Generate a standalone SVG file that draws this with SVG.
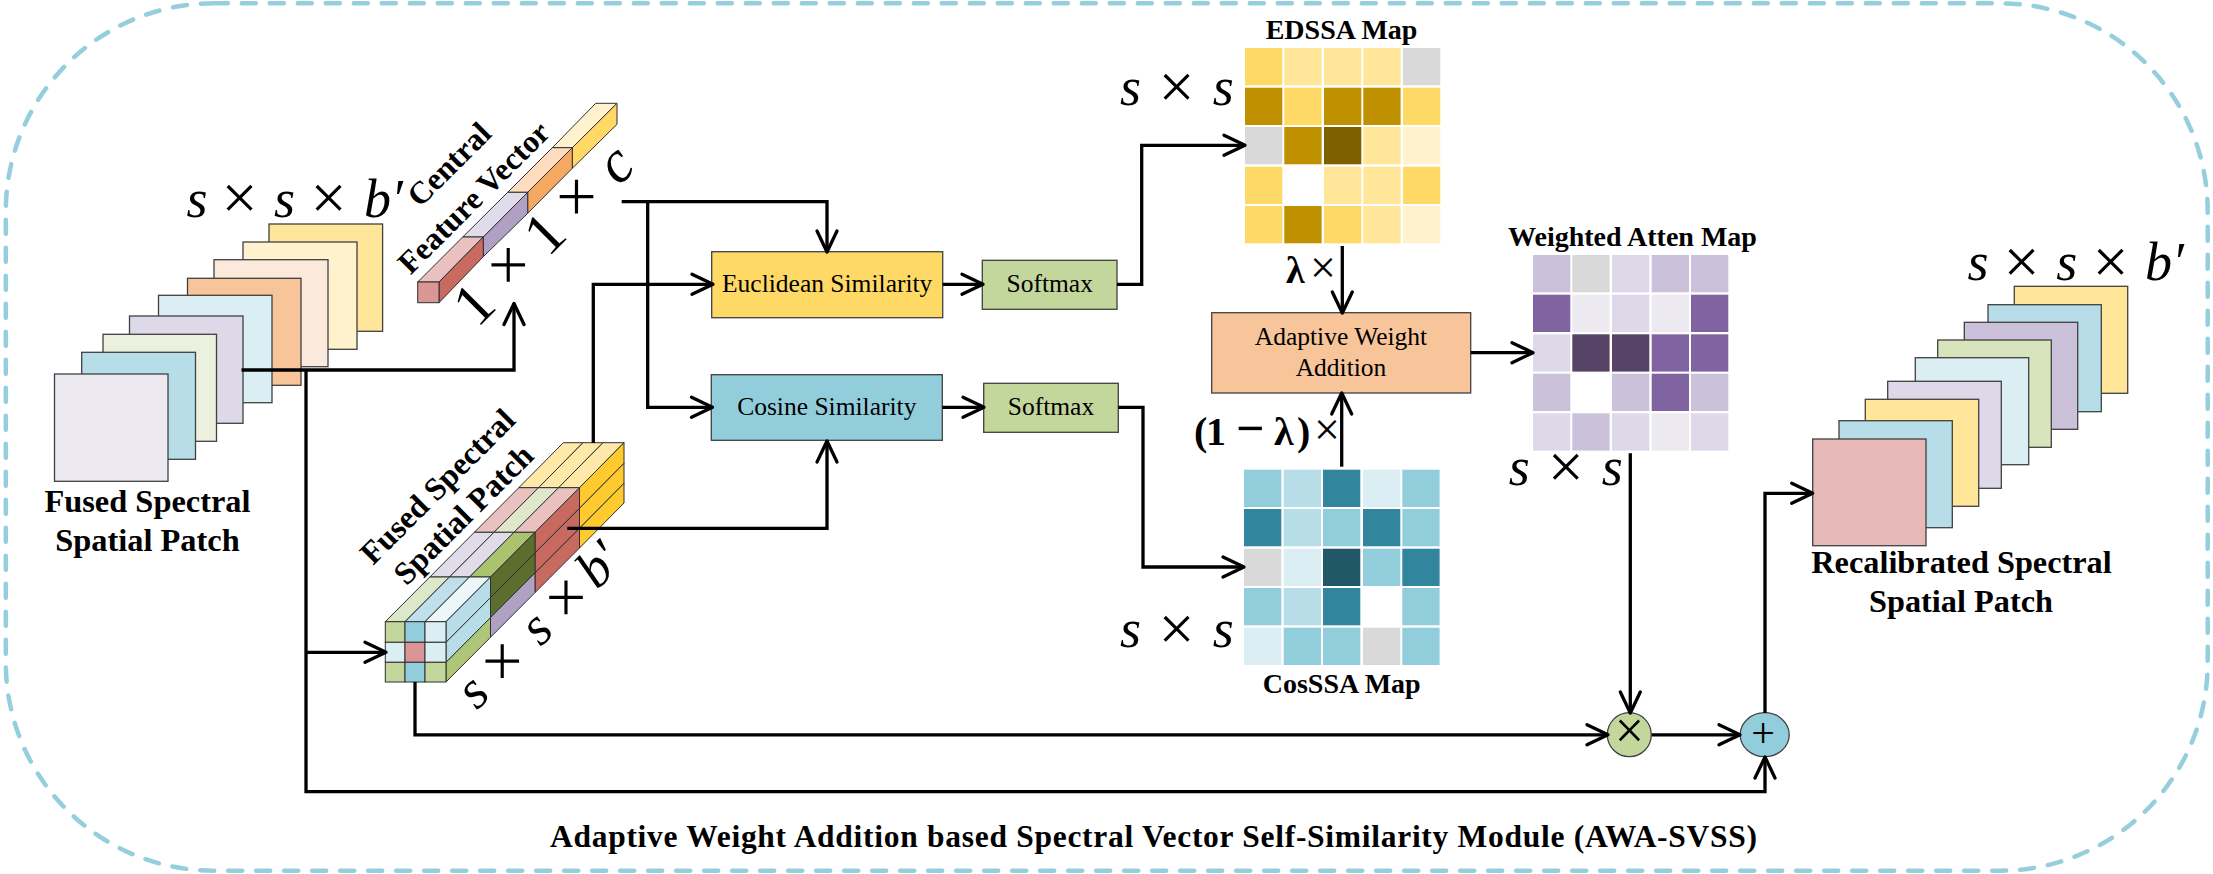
<svg xmlns="http://www.w3.org/2000/svg" width="2213" height="874" viewBox="0 0 2213 874">
<style>
text{font-family:"Liberation Serif","Times New Roman",serif;fill:#000}
.b{font-weight:bold}
.l{font-size:31.5px;font-weight:bold}
.m{font-size:28px;font-weight:bold}
.t{font-size:25.5px;text-anchor:middle}
.i{font-size:54px;font-style:italic}
.u{font-style:normal;font-size:64px}
.sq{stroke:#404040;stroke-width:1.3}
.box{stroke:#404040;stroke-width:1.3}
.f{stroke:#303030;stroke-width:1}
.c{fill:none;stroke:#000;stroke-width:3.3;stroke-linejoin:miter}
.a{marker-end:url(#arrow)}
</style>
<defs>
<marker id="arrow" markerUnits="userSpaceOnUse" markerWidth="60" markerHeight="60" viewBox="-30 -30 60 60" refX="0" refY="0" orient="auto" overflow="visible">
<path d="M-21,-10 L0,0 L-21,10" fill="none" stroke="#000" stroke-width="3.3" stroke-linecap="round" stroke-linejoin="round"/>
</marker>
</defs>
<rect id="module-border" x="5.8" y="3.3" width="2201.9" height="867.4" rx="208" ry="208" fill="none" stroke="#95CFDE" stroke-width="4.5" stroke-linecap="round" stroke-dasharray="14 14"/>

<g id="fused-patch-stack">
<rect class="sq" x="269" y="224" width="113.6" height="107.3" fill="#FFE597"/>
<rect class="sq" x="243" y="242" width="114" height="107.3" fill="#FFF2CC"/>
<rect class="sq" x="214" y="259.7" width="114" height="107" fill="#FBE9DC"/>
<rect class="sq" x="187.5" y="278.3" width="113.5" height="107" fill="#F8C59B"/>
<rect class="sq" x="158.5" y="295.3" width="113.5" height="107.4" fill="#DAEEF3"/>
<rect class="sq" x="129.5" y="316" width="113.5" height="107.3" fill="#DDD9E8"/>
<rect class="sq" x="103" y="334.3" width="113.5" height="107" fill="#EBF1DE"/>
<rect class="sq" x="81.7" y="352.3" width="113.8" height="107" fill="#B7DEE8"/>
<rect class="sq" x="54.5" y="374" width="113.5" height="107.3" fill="#ECE9F1"/>
<text class="i" y="216.7"><tspan x="186.5">s</tspan> <tspan class="u" x="221.5" dy="2.5">×</tspan> <tspan x="274" dy="-2.5">s</tspan> <tspan class="u" x="310.4" dy="2.5">×</tspan> <tspan x="364" dy="-2.5">b′</tspan></text>
<text x="147.5" y="512.3" style="font-size:32.4px;font-weight:bold;text-anchor:middle">Fused Spectral</text>
<text x="147.5" y="551" style="font-size:32.4px;font-weight:bold;text-anchor:middle">Spatial Patch</text>
</g>

<g id="central-feature-vector">
<polygon class="f" points="552.3,147.7 572.3,147.7 617,103.3 595.7,103.3" fill="#FFF2CC"/>
<polygon class="f" points="572.3,147.7 617,103.3 617,124.3 572.3,168.3" fill="#FFD966"/>
<polygon class="f" points="507.7,192.3 527.7,192.3 572.3,147.7 552.3,147.7" fill="#FDDCC0"/>
<polygon class="f" points="527.7,192.3 572.3,147.7 572.3,168.3 527.7,213.3" fill="#F4A862"/>
<polygon class="f" points="462.7,237 483.3,237 527.7,192.3 507.7,192.3" fill="#E0DCE9"/>
<polygon class="f" points="483.3,237 527.7,192.3 527.7,213.3 483.3,256.7" fill="#B0A1C4"/>
<polygon class="f" points="417.7,282 439,282 483.3,237 462.7,237" fill="#E9C2C0"/>
<polygon class="f" points="439,282 483.3,237 483.3,256.7 439,302.7" fill="#C96A60"/>
<rect class="f" x="417.7" y="282" width="21.3" height="20.7" fill="#D99694"/>
<text class="l" transform="translate(420,208.3) rotate(-45)">Central</text>
<text class="l" transform="translate(410.5,275.5) rotate(-45)">Feature Vector</text>
<text style="font-size:60px" transform="translate(480,326) rotate(-45)"><tspan x="-4">1</tspan> <tspan class="u" x="45" dy="-2">×</tspan> <tspan x="96" dy="2">1</tspan> <tspan class="u" x="141.6" dy="-2">×</tspan> <tspan x="196.5" dy="2" style="font-style:italic">c</tspan></text>
</g>

<g id="fused-cube">
<polygon class="f" points="518.8,487.7 538.5,487.7 583,442.7 563.3,442.7" fill="#FFE9A8"/>
<polygon class="f" points="538.5,487.7 558.5,487.7 603,442.7 583,442.7" fill="#FFE9A8"/>
<polygon class="f" points="558.5,487.7 579.5,487.7 624,442.7 603,442.7" fill="#FFE9A8"/>
<polygon class="f" points="579.5,487.7 624,442.7 624,463.3 579.5,508.3" fill="#FFCA2E"/>
<polygon class="f" points="579.5,508.3 624,463.3 624,483.3 579.5,528.3" fill="#FFCA2E"/>
<polygon class="f" points="579.5,528.3 624,483.3 624,503 579.5,548" fill="#FFCA2E"/>
<polygon class="f" points="474.3,532.3 494,532.3 538.5,487.7 518.8,487.7" fill="#E9C2C0"/>
<polygon class="f" points="494,532.3 514,532.3 558.5,487.7 538.5,487.7" fill="#DFE8CC"/>
<polygon class="f" points="514,532.3 535,532.3 579.5,487.7 558.5,487.7" fill="#E9C2C0"/>
<polygon class="f" points="535,532.3 579.5,487.7 579.5,508.3 535,552.9" fill="#C96A60"/>
<polygon class="f" points="535,552.9 579.5,508.3 579.5,528.3 535,572.9" fill="#C96A60"/>
<polygon class="f" points="535,572.9 579.5,528.3 579.5,548 535,592.6" fill="#C96A60"/>
<polygon class="f" points="429.8,577 449.5,577 494,532.3 474.3,532.3" fill="#E0DCE9"/>
<polygon class="f" points="449.5,577 469.5,577 514,532.3 494,532.3" fill="#E0DCE9"/>
<polygon class="f" points="469.5,577 490.5,577 535,532.3 514,532.3" fill="#ABC271"/>
<polygon class="f" points="490.5,577 535,532.3 535,552.9 490.5,597.6" fill="#5C6E2E"/>
<polygon class="f" points="490.5,597.6 535,552.9 535,572.9 490.5,617.6" fill="#5C6E2E"/>
<polygon class="f" points="490.5,617.6 535,572.9 535,592.6 490.5,637.3" fill="#B0A1C4"/>
<polygon class="f" points="385.3,621.7 405,621.7 449.5,577 429.8,577" fill="#DDE8CB"/>
<polygon class="f" points="405,621.7 425,621.7 469.5,577 449.5,577" fill="#BFE0EA"/>
<polygon class="f" points="425,621.7 446,621.7 490.5,577 469.5,577" fill="#EDF6F9"/>
<polygon class="f" points="446,621.7 490.5,577 490.5,597.6 446,642.3" fill="#B7DEE8"/>
<polygon class="f" points="446,642.3 490.5,597.6 490.5,617.6 446,662.3" fill="#B7DEE8"/>
<polygon class="f" points="446,662.3 490.5,617.6 490.5,637.3 446,682" fill="#AEC677"/>
<rect class="f" x="385.3" y="621.7" width="19.7" height="20.6" fill="#C3D69B"/>
<rect class="f" x="405" y="621.7" width="20" height="20.6" fill="#92CDDC"/>
<rect class="f" x="425" y="621.7" width="21" height="20.6" fill="#DAEEF3"/>
<rect class="f" x="385.3" y="642.3" width="19.7" height="20" fill="#DAEEF3"/>
<rect class="f" x="405" y="642.3" width="20" height="20" fill="#D99694"/>
<rect class="f" x="425" y="642.3" width="21" height="20" fill="#DAEEF3"/>
<rect class="f" x="385.3" y="662.3" width="19.7" height="19.7" fill="#C3D69B"/>
<rect class="f" x="405" y="662.3" width="20" height="19.7" fill="#92CDDC"/>
<rect class="f" x="425" y="662.3" width="21" height="19.7" fill="#C3D69B"/>
<text class="l" transform="translate(373,566) rotate(-45)" style="font-size:32px">Fused Spectral</text>
<text class="l" transform="translate(406.5,586.5) rotate(-45)" style="font-size:32px">Spatial Patch</text>
<text class="i" transform="translate(477,710.8) rotate(-45)"><tspan x="0">s</tspan> <tspan class="u" x="35" dy="4">×</tspan> <tspan x="90" dy="-4">s</tspan> <tspan class="u" x="125" dy="4">×</tspan> <tspan x="170" dy="-4">b′</tspan></text>
</g>

<g id="euclidean-similarity"><rect class="box" x="711.7" y="251.7" width="231" height="66" fill="#FFD966"/><text class="t" x="827.2" y="292">Euclidean Similarity</text></g>
<g id="cosine-similarity"><rect class="box" x="711.3" y="374.7" width="231" height="65.6" fill="#92CDDC"/><text class="t" x="826.8" y="414.7">Cosine Similarity</text></g>
<g id="softmax-1"><rect class="box" x="982.3" y="260.3" width="134.7" height="49" fill="#C3D69B"/><text class="t" x="1049.7" y="292">Softmax</text></g>
<g id="softmax-2"><rect class="box" x="983.7" y="383.3" width="134.6" height="49" fill="#C3D69B"/><text class="t" x="1051" y="414.7">Softmax</text></g>
<g id="adaptive-weight-addition"><rect class="box" x="1211.7" y="312.7" width="259" height="80.3" fill="#F8C59B"/><text class="t" x="1341" y="345">Adaptive Weight</text><text class="t" x="1341" y="376">Addition</text></g>

<g id="edssa-map">
<text class="m" x="1265.7" y="39">EDSSA Map</text>
<g>
<rect x="1245" y="48" width="37.3" height="37.3" fill="#FFD966"/><rect x="1284.3" y="48" width="37.3" height="37.3" fill="#FFE699"/><rect x="1324" y="48" width="37.3" height="37.3" fill="#FFE699"/><rect x="1363.3" y="48" width="37.3" height="37.3" fill="#FFE699"/><rect x="1403" y="48" width="37.3" height="37.3" fill="#D9D9D9"/>
<rect x="1245" y="87.7" width="37.3" height="37.3" fill="#BF9000"/><rect x="1284.3" y="87.7" width="37.3" height="37.3" fill="#FFD966"/><rect x="1324" y="87.7" width="37.3" height="37.3" fill="#BF9000"/><rect x="1363.3" y="87.7" width="37.3" height="37.3" fill="#BF9000"/><rect x="1403" y="87.7" width="37.3" height="37.3" fill="#FFD966"/>
<rect x="1245" y="127" width="37.3" height="37.3" fill="#D9D9D9"/><rect x="1284.3" y="127" width="37.3" height="37.3" fill="#BF9000"/><rect x="1324" y="127" width="37.3" height="37.3" fill="#7F6000"/><rect x="1363.3" y="127" width="37.3" height="37.3" fill="#FFE699"/><rect x="1403" y="127" width="37.3" height="37.3" fill="#FFF2CC"/>
<rect x="1245" y="166.7" width="37.3" height="37.3" fill="#FFD966"/><rect x="1284.3" y="166.7" width="37.3" height="37.3" fill="#FFFFFF"/><rect x="1324" y="166.7" width="37.3" height="37.3" fill="#FFE699"/><rect x="1363.3" y="166.7" width="37.3" height="37.3" fill="#FFE699"/><rect x="1403" y="166.7" width="37.3" height="37.3" fill="#FFD966"/>
<rect x="1245" y="206" width="37.3" height="37.3" fill="#FFD966"/><rect x="1284.3" y="206" width="37.3" height="37.3" fill="#BF9000"/><rect x="1324" y="206" width="37.3" height="37.3" fill="#FFD966"/><rect x="1363.3" y="206" width="37.3" height="37.3" fill="#FFE699"/><rect x="1403" y="206" width="37.3" height="37.3" fill="#FFF2CC"/>
</g>
<text class="i" y="105"><tspan x="1120">s</tspan> <tspan class="u" x="1158.5" dy="2.5">×</tspan> <tspan x="1212.8" dy="-2.5">s</tspan></text>
<text class="b" x="1286" y="282.7" style="font-size:38px">λ</text><text x="1310" y="282.7" style="font-size:46px">×</text>
</g>

<g id="cosssa-map">
<text class="m" x="1262.7" y="693.3">CosSSA Map</text>
<g>
<rect x="1244" y="469.7" width="37.3" height="37.3" fill="#92CDDC"/><rect x="1283.7" y="469.7" width="37.3" height="37.3" fill="#B7DEE8"/><rect x="1323" y="469.7" width="37.3" height="37.3" fill="#31859C"/><rect x="1363" y="469.7" width="37.3" height="37.3" fill="#DAEEF3"/><rect x="1402.3" y="469.7" width="37.3" height="37.3" fill="#92CDDC"/>
<rect x="1244" y="509" width="37.3" height="37.3" fill="#31859C"/><rect x="1283.7" y="509" width="37.3" height="37.3" fill="#B7DEE8"/><rect x="1323" y="509" width="37.3" height="37.3" fill="#92CDDC"/><rect x="1363" y="509" width="37.3" height="37.3" fill="#31859C"/><rect x="1402.3" y="509" width="37.3" height="37.3" fill="#92CDDC"/>
<rect x="1244" y="548.7" width="37.3" height="37.3" fill="#D9D9D9"/><rect x="1283.7" y="548.7" width="37.3" height="37.3" fill="#DAEEF3"/><rect x="1323" y="548.7" width="37.3" height="37.3" fill="#215868"/><rect x="1363" y="548.7" width="37.3" height="37.3" fill="#92CDDC"/><rect x="1402.3" y="548.7" width="37.3" height="37.3" fill="#31859C"/>
<rect x="1244" y="588" width="37.3" height="37.3" fill="#92CDDC"/><rect x="1283.7" y="588" width="37.3" height="37.3" fill="#B7DEE8"/><rect x="1323" y="588" width="37.3" height="37.3" fill="#31859C"/><rect x="1363" y="588" width="37.3" height="37.3" fill="#FFFFFF"/><rect x="1402.3" y="588" width="37.3" height="37.3" fill="#92CDDC"/>
<rect x="1244" y="627.7" width="37.3" height="37.3" fill="#DAEEF3"/><rect x="1283.7" y="627.7" width="37.3" height="37.3" fill="#92CDDC"/><rect x="1323" y="627.7" width="37.3" height="37.3" fill="#92CDDC"/><rect x="1363" y="627.7" width="37.3" height="37.3" fill="#D9D9D9"/><rect x="1402.3" y="627.7" width="37.3" height="37.3" fill="#92CDDC"/>
</g>
<text class="i" y="647"><tspan x="1120">s</tspan> <tspan class="u" x="1158.5" dy="2.5">×</tspan> <tspan x="1212.8" dy="-2.5">s</tspan></text>
<text class="b" y="445" style="font-size:40px"><tspan x="1194">(</tspan><tspan x="1206">1</tspan> <tspan x="1236" style="font-size:50px">−</tspan> <tspan x="1274">λ</tspan><tspan x="1297">)</tspan><tspan x="1314" style="font-weight:normal;font-size:46px">×</tspan></text>
</g>

<g id="weighted-atten-map">
<text class="m" x="1508" y="245.7">Weighted Atten Map</text>
<g>
<rect x="1533" y="255" width="37.3" height="37.3" fill="#CCC1DA"/><rect x="1572.3" y="255" width="37.3" height="37.3" fill="#D9D9D9"/><rect x="1612" y="255" width="37.3" height="37.3" fill="#DDD9E8"/><rect x="1651.7" y="255" width="37.3" height="37.3" fill="#CCC1DA"/><rect x="1691" y="255" width="37.3" height="37.3" fill="#CCC1DA"/>
<rect x="1533" y="294.7" width="37.3" height="37.3" fill="#8064A2"/><rect x="1572.3" y="294.7" width="37.3" height="37.3" fill="#ECE9F1"/><rect x="1612" y="294.7" width="37.3" height="37.3" fill="#DDD9E8"/><rect x="1651.7" y="294.7" width="37.3" height="37.3" fill="#ECE9F1"/><rect x="1691" y="294.7" width="37.3" height="37.3" fill="#8064A2"/>
<rect x="1533" y="334.3" width="37.3" height="37.3" fill="#DDD9E8"/><rect x="1572.3" y="334.3" width="37.3" height="37.3" fill="#574366"/><rect x="1612" y="334.3" width="37.3" height="37.3" fill="#574366"/><rect x="1651.7" y="334.3" width="37.3" height="37.3" fill="#8064A2"/><rect x="1691" y="334.3" width="37.3" height="37.3" fill="#8064A2"/>
<rect x="1533" y="373.7" width="37.3" height="37.3" fill="#CCC1DA"/><rect x="1572.3" y="373.7" width="37.3" height="37.3" fill="#FFFFFF"/><rect x="1612" y="373.7" width="37.3" height="37.3" fill="#CCC1DA"/><rect x="1651.7" y="373.7" width="37.3" height="37.3" fill="#8064A2"/><rect x="1691" y="373.7" width="37.3" height="37.3" fill="#CCC1DA"/>
<rect x="1533" y="413.3" width="37.3" height="37.3" fill="#DDD9E8"/><rect x="1572.3" y="413.3" width="37.3" height="37.3" fill="#CCC1DA"/><rect x="1612" y="413.3" width="37.3" height="37.3" fill="#DDD9E8"/><rect x="1651.7" y="413.3" width="37.3" height="37.3" fill="#ECE9F1"/><rect x="1691" y="413.3" width="37.3" height="37.3" fill="#DDD9E8"/>
</g>
<text class="i" y="485"><tspan x="1508.8">s</tspan> <tspan class="u" x="1547.8" dy="2.5">×</tspan> <tspan x="1601.8" dy="-2.5">s</tspan></text>
</g>

<g id="recalibrated-patch-stack">
<rect class="sq" x="2014.3" y="286.3" width="113.4" height="107" fill="#FFE699"/>
<rect class="sq" x="1988" y="304.7" width="113.3" height="107" fill="#B7DEE8"/>
<rect class="sq" x="1964.3" y="322.3" width="113.4" height="107" fill="#CCC1DA"/>
<rect class="sq" x="1937.7" y="340" width="113.6" height="107.3" fill="#D8E4BC"/>
<rect class="sq" x="1915.3" y="357.7" width="113.4" height="107" fill="#DAEEF3"/>
<rect class="sq" x="1887.7" y="381.3" width="113.6" height="107" fill="#DDD9E8"/>
<rect class="sq" x="1865.3" y="399.3" width="113.4" height="107" fill="#FFE699"/>
<rect class="sq" x="1839" y="420.7" width="113.3" height="107" fill="#B7DEE8"/>
<rect class="sq" x="1812.7" y="439" width="113.3" height="106.7" fill="#E6B8B7"/>
<text class="i" y="280"><tspan x="1967.5">s</tspan> <tspan class="u" x="2003.5" dy="2.5">×</tspan> <tspan x="2056.2" dy="-2.5">s</tspan> <tspan class="u" x="2092.5" dy="2.5">×</tspan> <tspan x="2145" dy="-2.5">b′</tspan></text>
<text x="1961.5" y="572.7" style="font-size:32.3px;font-weight:bold;text-anchor:middle">Recalibrated Spectral</text>
<text x="1961" y="611.7" style="font-size:32.3px;font-weight:bold;text-anchor:middle">Spatial Patch</text>
</g>

<g id="multiply-node"><circle cx="1629.3" cy="734.7" r="22" fill="#C3D69B" stroke="#404040" stroke-width="1.3"/><text x="1629.3" y="748" style="font-size:52px;text-anchor:middle">×</text></g>
<g id="add-node"><ellipse cx="1764.7" cy="734.7" rx="24.5" ry="22" fill="#92CDDC" stroke="#404040" stroke-width="1.3"/><text x="1763" y="746.5" style="font-size:42px;text-anchor:middle">+</text></g>

<g id="connectors">
<path class="c a" d="M241.5,370 H514 V303.5"/>
<path class="c a" d="M306,370 V791.7 H1765 V757"/>
<path class="c a" d="M306,652.3 H386"/>
<path class="c a" d="M621.7,201.7 H827 V252"/>
<path class="c a" d="M647.7,201.7 V407.3 H712.5"/>
<path class="c a" d="M593.3,443 V284.3 H713"/>
<path class="c a" d="M567.3,528.3 H827 V441"/>
<path class="c a" d="M415,682 V734.8 H1608"/>
<path class="c a" d="M942.7,284.3 H983"/>
<path class="c a" d="M942.3,407.3 H984"/>
<path class="c a" d="M1117,284.3 H1141.7 V145.3 H1245"/>
<path class="c a" d="M1118.3,407.3 H1143 V567 H1244"/>
<path class="c a" d="M1342.3,246 V313"/>
<path class="c a" d="M1341.7,466.7 V393"/>
<path class="c a" d="M1470.7,352.7 H1533"/>
<path class="c a" d="M1630.3,453.3 V713"/>
<path class="c a" d="M1651.7,734.8 H1740"/>
<path class="c a" d="M1765,713 V493.3 H1812.7"/>
</g>

<text id="module-title" x="550" y="846.7" textLength="1207" lengthAdjust="spacing" style="font-size:31.5px;font-weight:bold">Adaptive Weight Addition based Spectral Vector Self-Similarity Module (AWA-SVSS)</text>
</svg>
